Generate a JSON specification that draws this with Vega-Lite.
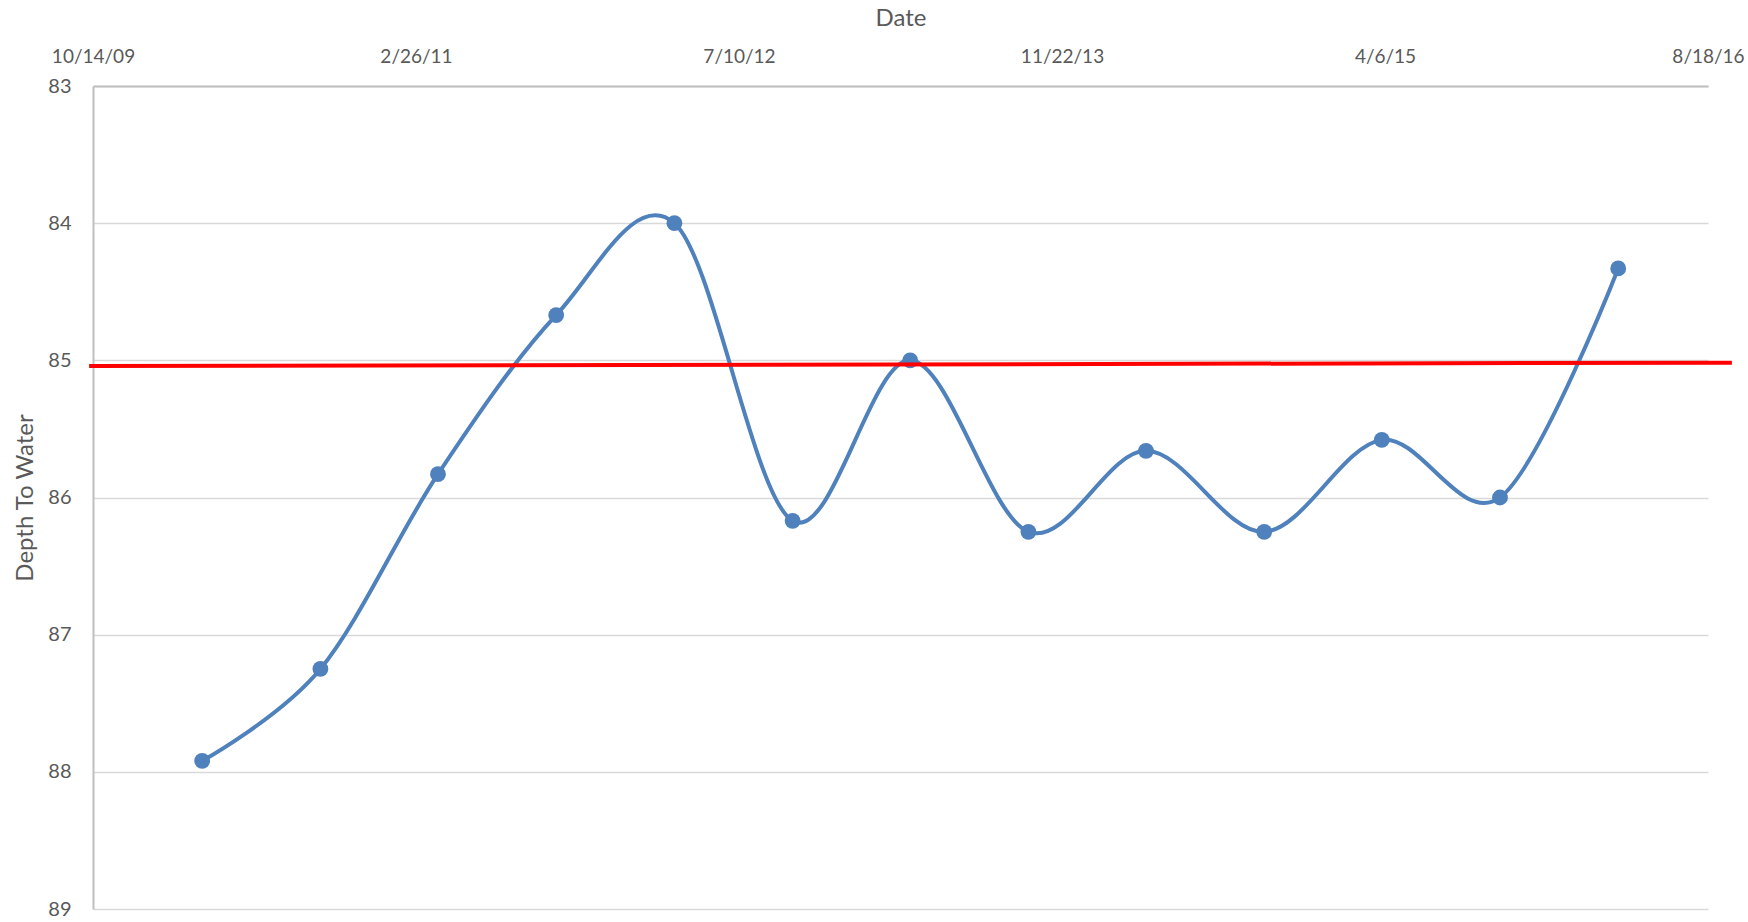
{
  "$schema": "https://vega.github.io/schema/vega-lite/v6.json",
  "width": 1615,
  "height": 823,
  "autosize": {"type": "none"},
  "padding": {"left": 93, "top": 86, "right": 40, "bottom": 13},
  "background": "white",
  "config": {
    "view": {"stroke": null},
    "font": "Lato",
    "axis": {"labelFont": "Lato", "titleFont": "Lato", "labelColor": "#595959", "titleColor": "#595959", "titleFontWeight": "normal"}
  },
  "data": {
    "values": [
      {"date": "2010-04-01", "depth": 87.92},
      {"date": "2010-10-01", "depth": 87.25},
      {"date": "2011-04-01", "depth": 85.83},
      {"date": "2011-10-01", "depth": 84.67},
      {"date": "2012-04-01", "depth": 84.0},
      {"date": "2012-10-01", "depth": 86.17},
      {"date": "2013-04-01", "depth": 85.0},
      {"date": "2013-10-01", "depth": 86.25},
      {"date": "2014-04-01", "depth": 85.66},
      {"date": "2014-10-01", "depth": 86.25},
      {"date": "2015-04-01", "depth": 85.58},
      {"date": "2015-10-01", "depth": 86.0},
      {"date": "2016-04-01", "depth": 84.33}
    ]
  },
  "encoding": {
    "x": {
      "field": "date",
      "type": "temporal",
      "scale": {"type": "utc", "domain": [{"year": 2009, "month": 10, "date": 14, "utc": true}, {"year": 2016, "month": 8, "date": 18, "utc": true}]},
      "axis": {
        "orient": "top",
        "title": "Date",
        "titleFontSize": 24,
        "titlePadding": 17,
        "values": [
          {"year": 2009, "month": 10, "date": 14, "utc": true},
          {"year": 2011, "month": 2, "date": 26, "utc": true},
          {"year": 2012, "month": 7, "date": 10, "utc": true},
          {"year": 2013, "month": 11, "date": 22, "utc": true},
          {"year": 2015, "month": 4, "date": 6, "utc": true},
          {"year": 2016, "month": 8, "date": 18, "utc": true}
        ],
        "labelExpr": "utcFormat(datum.value, '%-m/%-d/%y')",
        "labelFontSize": 19,
        "labelPadding": 20,
        "ticks": false,
        "grid": false,
        "domain": true,
        "domainColor": "#bfbfbf",
        "domainWidth": 2,
        "labelFlush": false,
        "labelOverlap": false
      }
    },
    "y": {
      "field": "depth",
      "type": "quantitative",
      "scale": {"domain": [83, 89], "reverse": true, "zero": false, "nice": false},
      "axis": {
        "title": "Depth To Water",
        "titleFontSize": 24,
        "titlePadding": 10,
        "values": [83, 84, 85, 86, 87, 88, 89],
        "format": "d",
        "labelFontSize": 20,
        "labelPadding": 22,
        "ticks": false,
        "grid": true,
        "gridColor": "#d9d9d9",
        "gridWidth": 1.5,
        "domain": true,
        "domainColor": "#bfbfbf",
        "domainWidth": 2
      }
    }
  },
  "layer": [
    {
      "mark": {"type": "line", "interpolate": "cardinal", "color": "#4f81bd", "strokeWidth": 4, "clip": false}
    },
    {
      "mark": {"type": "point", "shape": "circle", "filled": true, "opacity": 1, "size": 250, "color": "#4f81bd", "clip": false}
    },
    {
      "data": {"values": [
        {"date": "2009-10-08", "depth": 85.042},
        {"date": "2016-09-24", "depth": 85.017}
      ]},
      "mark": {"type": "line", "color": "#ff0000", "strokeWidth": 4, "clip": false}
    }
  ]
}
